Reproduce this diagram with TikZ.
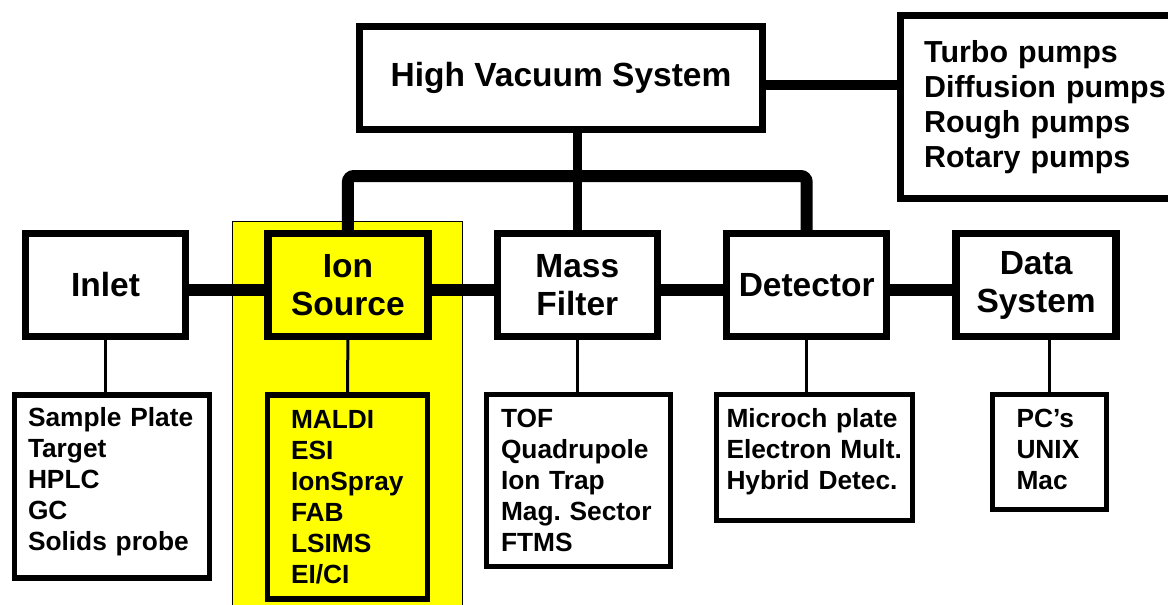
\documentclass[tikz,border=0pt]{standalone}
\usepackage{fontspec}
\setmainfont{Liberation Sans}
\usetikzlibrary{positioning,backgrounds}
\definecolor{srcyellow}{RGB}{255,255,0}
\newcommand{\tailgap}[1]{\rule[-#1]{0pt}{#1}}

\begin{document}
\begin{tikzpicture}[
  x=0.5pt, y=-0.5pt,
  unit/.style={draw=black, line width=3.7pt, align=center, inner sep=0pt,
               minimum width=80pt, minimum height=51.5pt, fill=white,
               font=\fontsize{16.75}{19}\selectfont\bfseries},
  sub/.style={draw=black, line width=2.6pt, align=left, inner sep=0pt, fill=white,
              font=\fontsize{13.15}{15.5}\selectfont\bfseries\frenchspacing},
  bus/.style={line width=6pt, rounded corners=3pt},
  trunk/.style={line width=4.6pt},
  tap/.style={line width=1.5pt},
]
\useasboundingbox (0,0) rectangle (1168,605);

% ---- vacuum system and pumps ----
\node[unit, minimum width=201.5pt] (hvs) at (561,78) {High Vacuum System};
\node[draw=black, line width=3.7pt, anchor=west, align=left, inner xsep=11.75pt,
      text width=121pt, minimum height=91.5pt, fill=white,
      font=\fontsize{15.2}{17.5}\selectfont\bfseries] (pumps) at (897,107)
  {Turbo pumps\\Diffusion pumps\\Rough pumps\\Rotary pumps};

% ---- main chain ----
\node[unit] (inlet) at (105.5,285) {Inlet};
\node[unit, fill=srcyellow, right=37.5pt of inlet] (ion) {Ion\\Source};
\node[unit, right=31pt of ion] (mass) {Mass\\Filter};
\node[unit, right=31pt of mass] (det) {Detector};
\node[unit, right=31pt of det] (data) {Data\\System};

% ---- component lists ----
\node[sub, minimum width=97.5pt, minimum height=91.5pt, text width=84pt] (inletsub)
  at (112,486.5) {Sample Plate\\Target\\HPLC\\GC\\Solids probe\tailgap{7.8pt}};
\node[sub, fill=srcyellow, minimum width=80pt, minimum height=102pt, text width=56.5pt] (ionsub)
  at (347.5,497) {MALDI\\ESI\\IonSpray\\FAB\\LSIMS\\EI/CI};
\node[sub, minimum width=92pt, minimum height=86pt, text width=77.5pt] (masssub)
  at (578.5,480.5) {TOF\\Quadrupole\\Ion Trap\\Mag. Sector\\FTMS};
\node[sub, minimum width=98pt, minimum height=63pt, text width=88pt] (detsub)
  at (814.5,457.5) {Microch plate\\Electron Mult.\\Hybrid Detec.\tailgap{8.8pt}};
\node[sub, minimum width=57pt, minimum height=57.5pt, text width=33pt] (datasub)
  at (1049.5,452) {PC's\\UNIX\\Mac\tailgap{3pt}};

% ---- highlight band behind the ion source ----
\begin{scope}[on background layer]
  \node[draw=black, line width=0.6pt, fill=srcyellow, anchor=north west, inner sep=0pt,
        minimum width=115pt, minimum height=200pt] (band) at (232,221) {};
\end{scope}

% ---- connectors ----
\coordinate (busrow) at (0,176);
\draw[trunk] (hvs.south -| mass.north) -- (mass.north);
\draw[bus] (ion.north) -- (ion.north |- busrow) -- (det.north |- busrow) -- (det.north);
\draw[trunk] ([yshift=-3.5pt]hvs.east) -- ([yshift=-3.5pt]hvs.east -| pumps.west);

\draw[bus] ([yshift=-2.5pt]inlet.east) -- ([yshift=-2.5pt]ion.west);
\draw[bus] ([yshift=-2.5pt]ion.east) -- ([yshift=-2.5pt]mass.west);
\draw[bus] ([yshift=-2.5pt]mass.east) -- ([yshift=-2.5pt]det.west);
\draw[bus] ([yshift=-2.5pt]det.east) -- ([yshift=-2.5pt]data.west);

\draw[tap] (inlet.south) -- (inlet.south |- inletsub.north);
\draw[tap] (ion.south) -- (ionsub.north);
\draw[tap] (mass.south) -- (mass.south |- masssub.north);
\draw[tap] (det.south) -- (det.south |- detsub.north);
\draw[tap] (datasub.north |- data.south) -- (datasub.north);

\end{tikzpicture}
\end{document}
